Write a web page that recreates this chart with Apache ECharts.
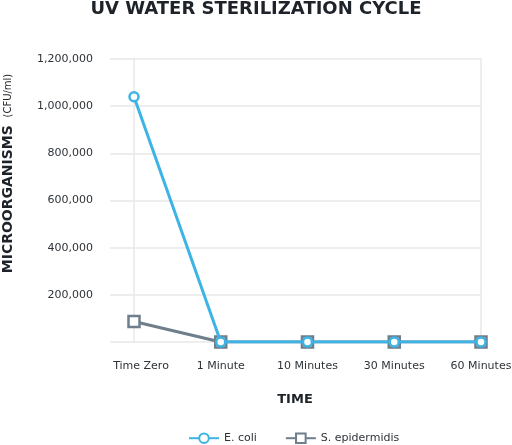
<!DOCTYPE html>
<html>
<head>
<meta charset="utf-8">
<script src="https://cdn.jsdelivr.net/npm/echarts@6/dist/echarts.min.js"></script>
<style>
  html, body { margin: 0; padding: 0; background: #fff; }
  #chart { width: 512px; height: 445px; }
</style>
</head>
<body>
<div id="chart"></div>
<script>
// values
const categories = ['Time Zero', '1 Minute', '10 Minutes', '30 Minutes', '60 Minutes']
const eColi = [1040000, 0, 0, 0, 0]
const sEpidermidis = [87000, 0, 0, 0, 0]

const font = 'DejaVu Sans'
const gridColor = '#e8e8e8'
const textColor = '#2e3338'

const chart = echarts.init(document.getElementById('chart'))

chart.setOption({
  animation: false,
  textStyle: { fontFamily: font },
  title: [
    {
      text: 'UV WATER STERILIZATION CYCLE',
      left: 'center',
      top: 0,
      padding: 0,
      textStyle: { fontFamily: font, fontSize: 18, fontWeight: 'bold', color: '#1e2329' },
    },
    {
      text: 'TIME',
      left: 295,
      top: 393,
      textAlign: 'center',
      padding: 0,
      textStyle: { fontFamily: font, fontSize: 13, fontWeight: 'bold', color: '#1e2329' },
    },
  ],
  legend: {
    bottom: -4,
    left: 183,
    itemWidth: 30,
    itemHeight: 12,
    itemGap: 28,
    textStyle: { fontFamily: font, fontSize: 11, color: textColor },
    data: ['E. coli', 'S. epidermidis'],
  },
  grid: { left: 134, right: 31, top: 59, bottom: 103, containLabel: false, outerBoundsMode: 'none' },
  xAxis: {
    type: 'category',
    data: categories,
    boundaryGap: false,
    axisLine: { show: false },
    axisTick: { show: false },
    splitLine: { show: false },
    axisLabel: {
      interval: 0,
      margin: 19,
      fontSize: 11,
      color: textColor,
      fontFamily: font,
      // first label sits a little right of its point in the reference
      formatter: (v, i) => (i === 0 ? '{first|' + v + '}' : v),
      rich: { first: { fontSize: 11, color: textColor, fontFamily: font, padding: [0, 0, 0, 14] } },
    },
  },
  yAxis: [
    {
      type: 'value',
      min: 0,
      max: 1200000,
      interval: 200000,
      name: '{a|MICROORGANISMS}  {b|(CFU/ml)}',
      nameLocation: 'middle',
      nameGap: 119,
      nameTextStyle: {
        padding: [0, 0, 0, 54],
        rich: {
          a: { fontFamily: font, fontSize: 14, fontWeight: 'bold', color: '#1e2329' },
          b: { fontFamily: font, fontSize: 10, color: '#1e2329' },
        },
      },
      axisLine: { show: true, lineStyle: { color: gridColor, width: 1.5 } },
      axisTick: { show: true, inside: false, length: 24, lineStyle: { color: gridColor, width: 1.5 } },
      splitLine: { show: true, lineStyle: { color: gridColor, width: 1.5 } },
      axisLabel: {
        margin: 41,
        fontSize: 11,
        color: textColor,
        fontFamily: font,
        formatter: v => (v === 0 ? '' : v.toLocaleString('en-US')),
      },
    },
    {
      type: 'value',
      position: 'right',
      min: 0,
      max: 1200000,
      interval: 200000,
      axisLine: { show: true, lineStyle: { color: gridColor, width: 1.5 } },
      axisTick: { show: false },
      splitLine: { show: false },
      axisLabel: { show: false },
    },
  ],
  series: [
    {
      name: 'E. coli',
      type: 'line',
      data: eColi,
      z: 3,
      symbol: 'circle',
      symbolSize: 9,
      lineStyle: { color: '#3cb4e5', width: 3 },
      itemStyle: { color: '#ffffff', borderColor: '#3cb4e5', borderWidth: 2.5 },
    },
    {
      name: 'S. epidermidis',
      type: 'line',
      data: sEpidermidis,
      z: 2,
      symbol: 'rect',
      symbolSize: 11,
      lineStyle: { color: '#6e7e8b', width: 3 },
      itemStyle: { color: '#ffffff', borderColor: '#6e7e8b', borderWidth: 2.5 },
    },
  ],
})
</script>
</body>
</html>
